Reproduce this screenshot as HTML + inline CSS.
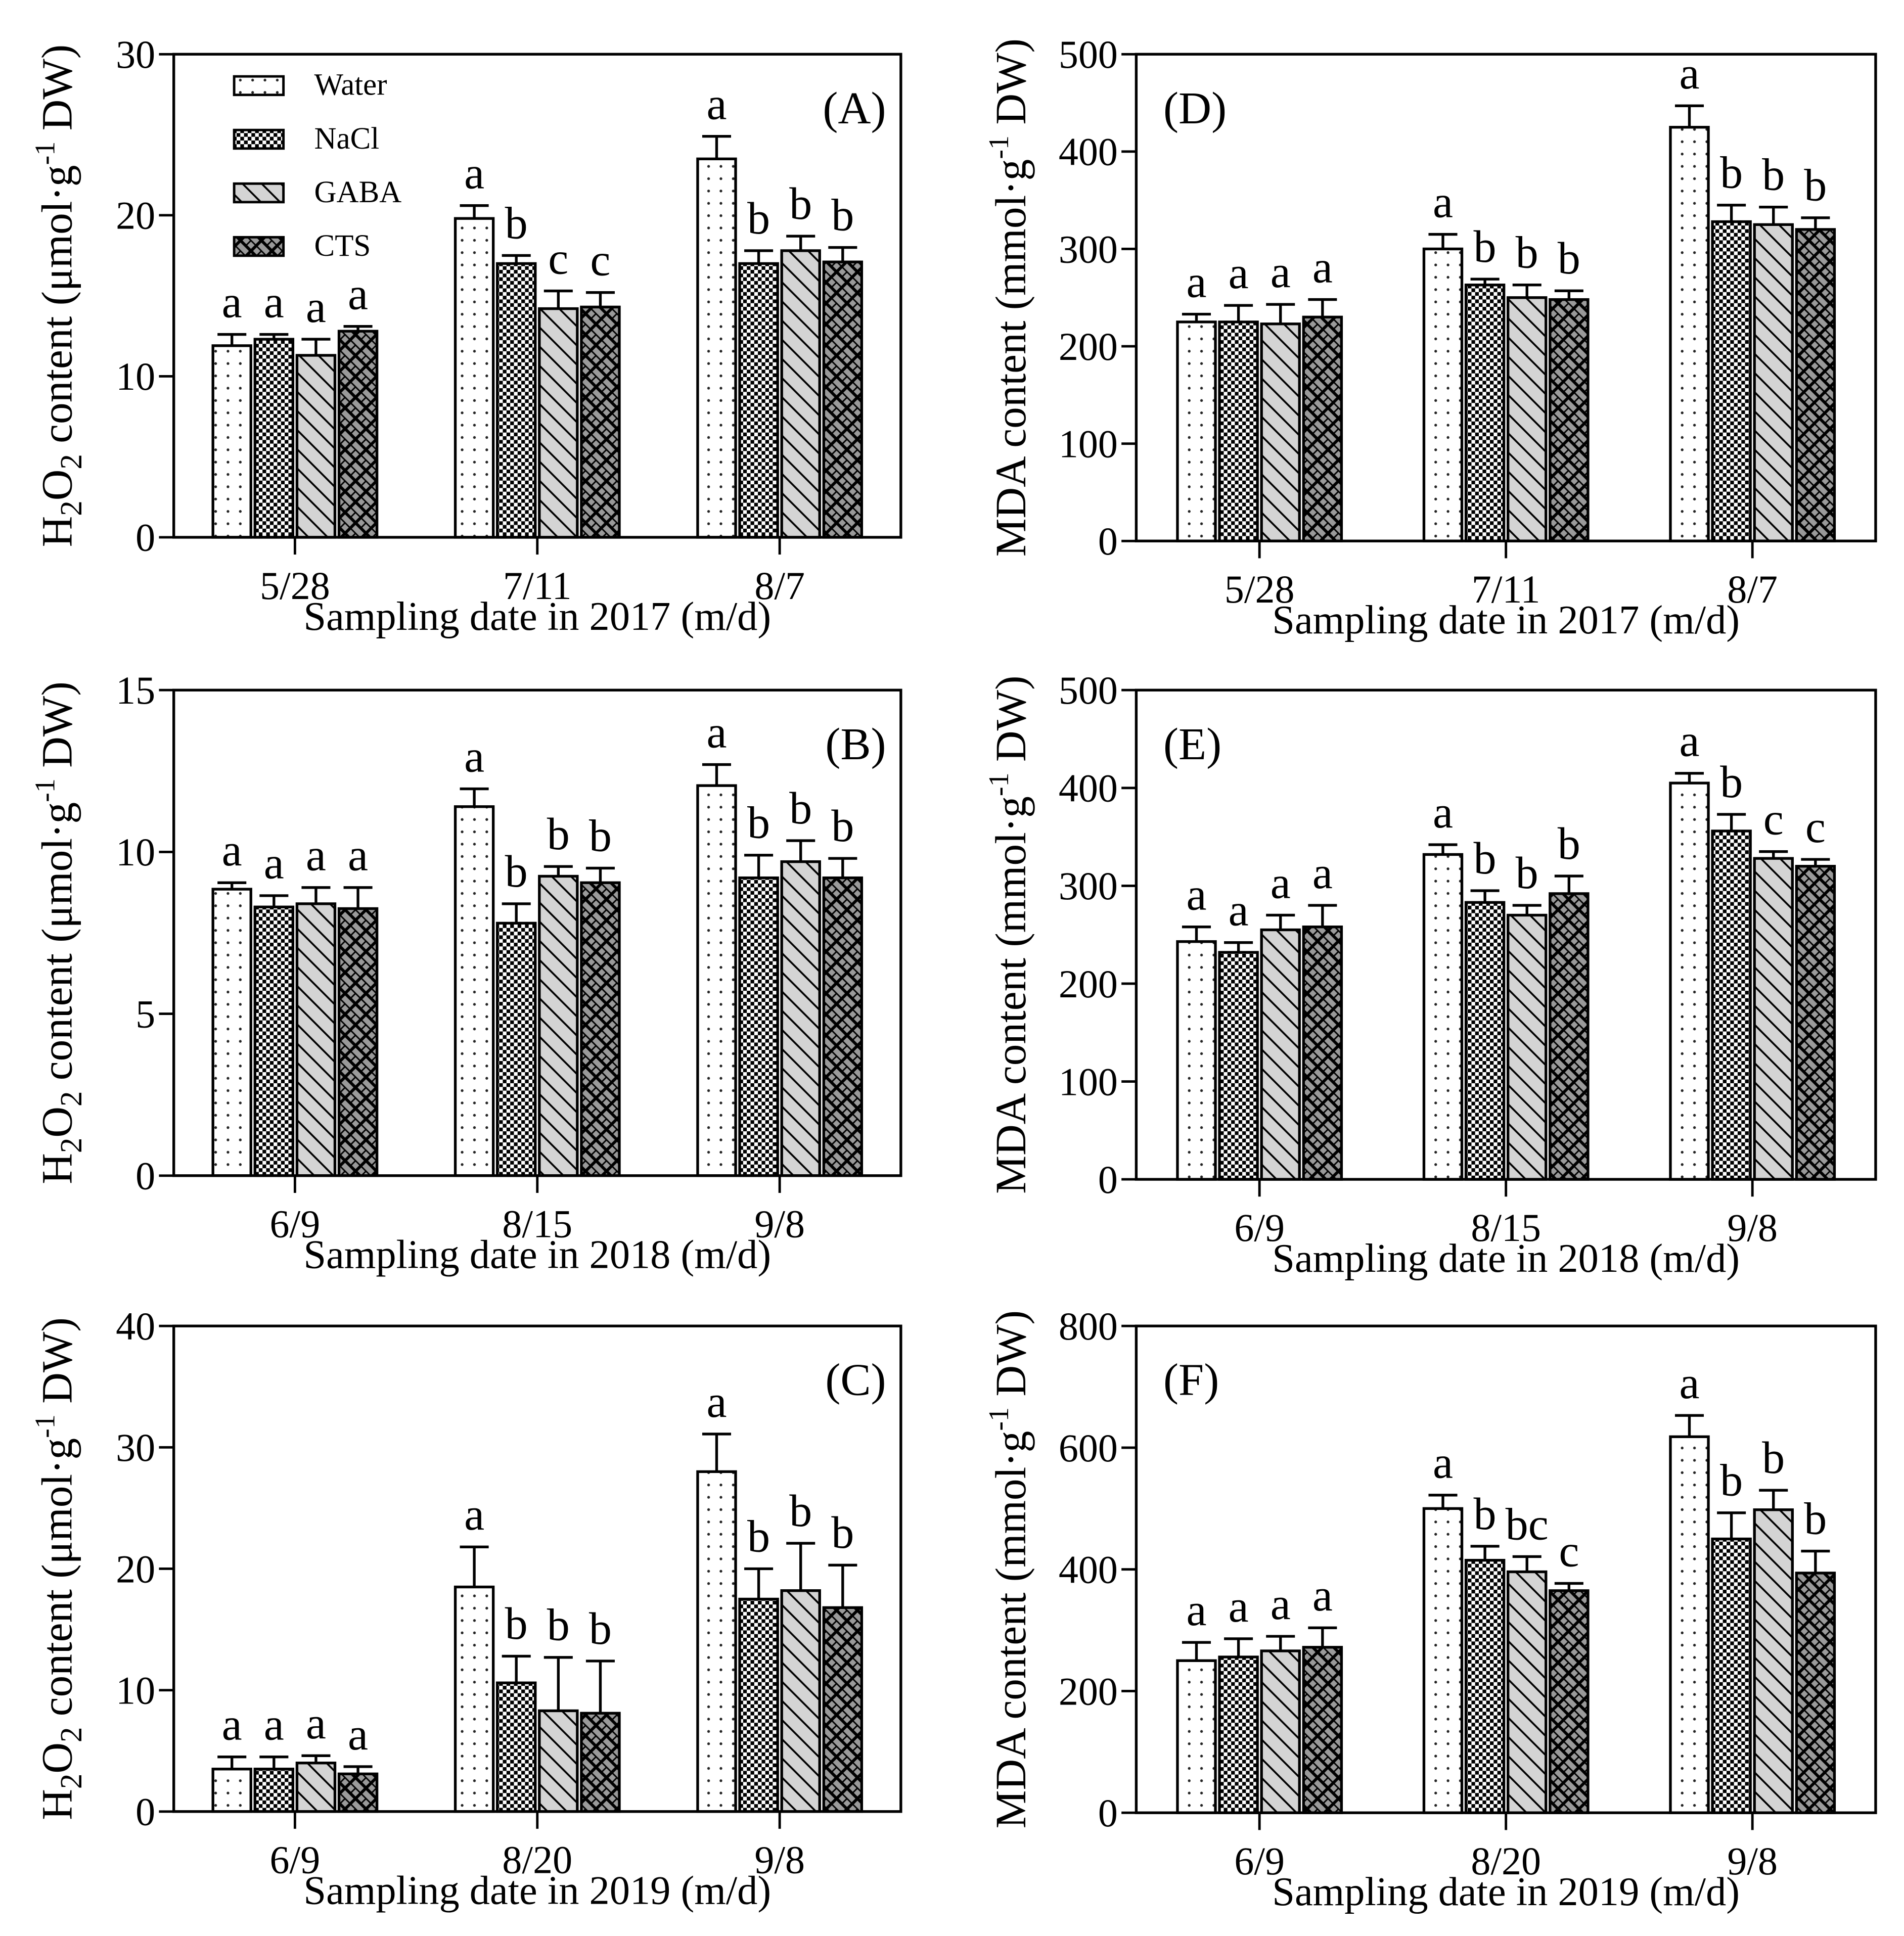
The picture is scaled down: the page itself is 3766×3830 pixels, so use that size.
<!DOCTYPE html>
<html><head><meta charset="utf-8"><style>
html,body{margin:0;padding:0;background:#fff}
svg{display:block}
text{font-family:"Liberation Serif",serif;fill:#000}
</style></head><body>
<svg id="chart" width="3766" height="3830" viewBox="0 0 1545 1571" preserveAspectRatio="none" xmlns="http://www.w3.org/2000/svg">
<defs>
<pattern id="pWater" width="10" height="10" patternUnits="userSpaceOnUse"><rect width="10" height="10" fill="#fff"/><circle cx="5" cy="5" r="1.1" fill="#222"/></pattern>
<pattern id="pNaCl" width="6" height="6" patternUnits="userSpaceOnUse"><rect width="6" height="6" fill="#fff"/><rect width="3" height="3" fill="#000"/><rect x="3" y="3" width="3" height="3" fill="#000"/></pattern>
<pattern id="pGABA" width="11" height="11" patternUnits="userSpaceOnUse" patternTransform="rotate(-45)"><rect width="11" height="11" fill="#d4d4d4"/><line x1="0" y1="0" x2="0" y2="11" stroke="#000" stroke-width="3"/></pattern>
<pattern id="pCTS" width="12" height="12" patternUnits="userSpaceOnUse" patternTransform="rotate(45)"><rect width="12" height="12" fill="#000"/><rect x="1.2" y="1.2" width="9.6" height="4.2" fill="#9a9a9a"/><rect x="1.2" y="6.6" width="4.2" height="4.2" fill="#9a9a9a"/><rect x="6.6" y="6.6" width="4.2" height="4.2" fill="#9a9a9a"/></pattern>
</defs>
<g id="root"></g>
</svg>
<script>
// Panel A (H2O2 2017)
const catsA = ["5/28","7/11","8/7"];
const waterA = [11.9,19.8,23.5], waterErrA = [0.7,0.8,1.4];
const naclA = [12.3,17.0,17.0], naclErrA = [0.3,0.5,0.8];
const gabaA = [11.3,14.2,17.8], gabaErrA = [1.0,1.1,0.9];
const ctsA = [12.8,14.3,17.1], ctsErrA = [0.3,0.9,0.9];
const lettersA = [["a","a","a","a"],["a","b","c","c"],["a","b","b","b"]];
const ticksA = [0,10,20,30];
// Panel B (H2O2 2018)
const catsB = ["6/9","8/15","9/8"];
const waterB = [8.85,11.4,12.05], waterErrB = [0.2,0.55,0.65];
const naclB = [8.3,7.8,9.2], naclErrB = [0.35,0.6,0.7];
const gabaB = [8.4,9.25,9.7], gabaErrB = [0.5,0.3,0.65];
const ctsB = [8.25,9.05,9.2], ctsErrB = [0.65,0.45,0.6];
const lettersB = [["a","a","a","a"],["a","b","b","b"],["a","b","b","b"]];
const ticksB = [0,5,10,15];
// Panel C (H2O2 2019)
const catsC = ["6/9","8/20","9/8"];
const waterC = [3.5,18.5,28.0], waterErrC = [1.0,3.3,3.1];
const naclC = [3.5,10.6,17.5], naclErrC = [1.0,2.2,2.5];
const gabaC = [4.0,8.3,18.2], gabaErrC = [0.6,4.4,3.9];
const ctsC = [3.1,8.1,16.8], ctsErrC = [0.6,4.3,3.5];
const lettersC = [["a","a","a","a"],["a","b","b","b"],["a","b","b","b"]];
const ticksC = [0,10,20,30,40];
// Panel D (MDA 2017)
const catsD = ["5/28","7/11","8/7"];
const waterD = [225,300,425], waterErrD = [8,15,22];
const naclD = [225,263,328], naclErrD = [17,6,17];
const gabaD = [223,250,325], gabaErrD = [20,13,18];
const ctsD = [230,248,320], ctsErrD = [18,9,12];
const lettersD = [["a","a","a","a"],["a","b","b","b"],["a","b","b","b"]];
const ticksD = [0,100,200,300,400,500];
// Panel E (MDA 2018)
const catsE = ["6/9","8/15","9/8"];
const waterE = [243,332,405], waterErrE = [15,10,10];
const naclE = [232,283,356], naclErrE = [10,12,17];
const gabaE = [255,270,328], gabaErrE = [15,10,7];
const ctsE = [258,292,320], ctsErrE = [22,18,7];
const lettersE = [["a","a","a","a"],["a","b","b","b"],["a","b","c","c"]];
const ticksE = [0,100,200,300,400,500];
// Panel F (MDA 2019)
const catsF = ["6/9","8/20","9/8"];
const waterF = [250,500,618], waterErrF = [30,22,35];
const naclF = [256,415,450], naclErrF = [30,23,43];
const gabaF = [266,396,498], gabaErrF = [24,25,32];
const ctsF = [272,365,394], ctsErrF = [32,12,36];
const lettersF = [["a","a","a","a"],["a","b","bc","c"],["a","b","b","b"]];
const ticksF = [0,200,400,600,800];

const NS = "http://www.w3.org/2000/svg";
const root = document.getElementById("root");
const fills = ["url(#pWater)","url(#pNaCl)","url(#pGABA)","url(#pCTS)"];
const snames = ["water","nacl","gaba","cts"];
function mk(tag, attrs, parent){const e=document.createElementNS(NS,tag);for(const k in attrs)e.setAttribute(k,attrs[k]);(parent||root).appendChild(e);return e;}

function panel(id, box, cats, series, errs, letters, ticks, ytitle, xtitle, tag, tagRight){
  const g = mk("g",{});
  
  
  const {L,R,T,B} = box, max = ticks[ticks.length-1];
  const y = v => B - v/max*(B-T);
  const band = (R-L)/cats.length;
  const bw = 30.8, gap = 3.3;
  const xc = i => L + (i+0.5)*band;
  for(let i=0;i<cats.length;i++){
    for(let s=0;s<4;s++){
      const v = series[s][i], e = errs[s][i];
      const x0 = xc(i) - 2*bw - 1.5*gap + s*(bw+gap);
      const r = mk("rect",{x:x0,y:y(v),width:bw,height:B-y(v),fill:fills[s],stroke:"#000","stroke-width":2.2},g);
      
      
      const cx = x0+bw/2;
      const eb = mk("path",{d:`M${cx},${y(v)}V${y(v+e)}M${cx-bw*0.38},${y(v+e)}H${cx+bw*0.38}`,stroke:"#000","stroke-width":2.2,fill:"none"},g);
      
      
      const t = mk("text",{x:cx,y:y(v+e)-14,"font-size":37,"text-anchor":"middle"},g);
      t.textContent = letters[i][s];
      
      
    }
    const tk = mk("line",{x1:xc(i),x2:xc(i),y1:B,y2:B+14,stroke:"#000","stroke-width":2},g);
    
    
    const tl = mk("text",{x:xc(i),y:B+50,"font-size":32,"text-anchor":"middle"},g);
    tl.textContent = cats[i];
    
    
  }
  const fr = mk("rect",{x:L,y:T,width:R-L,height:B-T,fill:"none",stroke:"#000","stroke-width":2.2},g);
  
  
  for(const t of ticks){
    const l = mk("line",{x1:L-12,x2:L,y1:y(t),y2:y(t),stroke:"#000","stroke-width":2},g);
    
    
    const tx = mk("text",{x:L-15,y:y(t)+11,"font-size":32,"text-anchor":"end"},g);
    tx.textContent = t;
    
    
  }
  const xt = mk("text",{x:(L+R)/2,y:B+75,"font-size":33,"text-anchor":"middle"},g);
  xt.textContent = xtitle;
  
  
  const ytx = L - (L===141?83:90);
  const yt = mk("text",{x:0,y:0,"font-size":35,"text-anchor":"middle",transform:`translate(${ytx},${(T+B)/2}) rotate(-90)`},g);
  yt.innerHTML = ytitle;
  
  
  const pl = mk("text",{x:tagRight?R-12:L+22,y:T+56,"font-size":37,"text-anchor":tagRight?"end":"start"},g);
  pl.textContent = tag;
  
  
}
const h2o2 = 'H<tspan font-size="25" dy="8">2</tspan><tspan dy="-8">O</tspan><tspan font-size="25" dy="8">2</tspan><tspan dy="-8"> content (μmol·g</tspan><tspan font-size="23" dy="-14">-1</tspan><tspan dy="14"> DW)</tspan>';
const mda = 'MDA content (mmol·g<tspan font-size="23" dy="-14">-1</tspan><tspan dy="14"> DW)</tspan>';
panel("a",{L:141,R:731,T:44,B:436},catsA,[waterA,naclA,gabaA,ctsA],[waterErrA,naclErrA,gabaErrA,ctsErrA],lettersA,ticksA,h2o2,"Sampling date in 2017 (m/d)","(A)",true);
panel("b",{L:141,R:731,T:560,B:954},catsB,[waterB,naclB,gabaB,ctsB],[waterErrB,naclErrB,gabaErrB,ctsErrB],lettersB,ticksB,h2o2,"Sampling date in 2018 (m/d)","(B)",true);
panel("c",{L:141,R:731,T:1076,B:1470},catsC,[waterC,naclC,gabaC,ctsC],[waterErrC,naclErrC,gabaErrC,ctsErrC],lettersC,ticksC,h2o2,"Sampling date in 2019 (m/d)","(C)",true);
panel("d",{L:922,R:1522,T:44,B:439},catsD,[waterD,naclD,gabaD,ctsD],[waterErrD,naclErrD,gabaErrD,ctsErrD],lettersD,ticksD,mda,"Sampling date in 2017 (m/d)","(D)",false);
panel("e",{L:922,R:1522,T:560,B:957},catsE,[waterE,naclE,gabaE,ctsE],[waterErrE,naclErrE,gabaErrE,ctsErrE],lettersE,ticksE,mda,"Sampling date in 2018 (m/d)","(E)",false);
panel("f",{L:922,R:1522,T:1076,B:1471},catsF,[waterF,naclF,gabaF,ctsF],[waterErrF,naclErrF,gabaErrF,ctsErrF],lettersF,ticksF,mda,"Sampling date in 2019 (m/d)","(F)",false);

// legend
const legNames = ["Water","NaCl","GABA","CTS"];
const lg = mk("g",{});


for(let s=0;s<4;s++){
  const yy = 62 + s*43.5;
  const sw = mk("rect",{x:190,y:yy,width:40,height:15,fill:fills[s],stroke:"#000","stroke-width":2},lg);
  
  
  const t = mk("text",{x:255,y:yy+15,"font-size":25},lg);
  t.textContent = legNames[s];
  
  
}
</script>
</body></html>
